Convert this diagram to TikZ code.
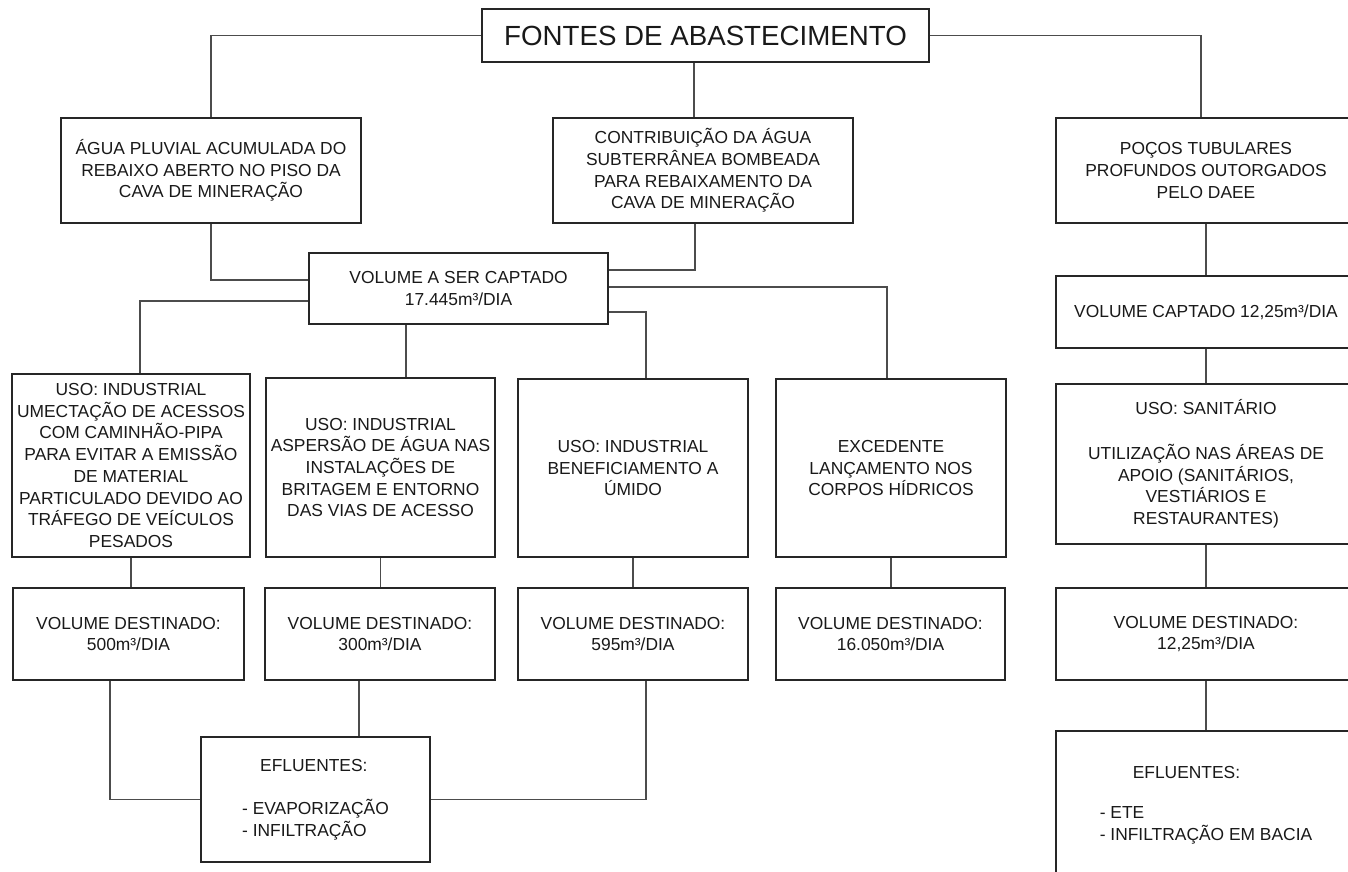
\documentclass[tikz,border=0pt]{standalone}
\usepackage{fontspec}
\setmainfont{Liberation Sans}

\tikzset{
  caixa/.style={draw=black!85, line width=1.6pt, align=center, inner sep=0pt,
    text=black!90, font=\fontsize{17.4}{21.7}\selectfont},
  tam/.style 2 args={minimum width=#1pt, minimum height=#2pt},
  ligacao/.style={draw=black!70, line width=1.3pt},
}

\begin{document}
\begin{tikzpicture}[x=1pt, y=-1pt]
  \path[use as bounding box] (0,0) rectangle (1348,871);
  \clip (0,0) rectangle (1348,871);

  % fontes
  \node[caixa, tam={447}{53}, font=\fontsize{27.7}{32}\selectfont] (titulo) at (705.5,35.5) {FONTES DE ABASTECIMENTO};
  \node[caixa, tam={300}{105}] (agua) at (211,170.5) {ÁGUA PLUVIAL ACUMULADA DO\\REBAIXO ABERTO NO PISO DA\\CAVA DE MINERAÇÃO};
  \node[caixa, tam={300}{105}] (contrib) at (703,170.5) {CONTRIBUIÇÃO DA ÁGUA\\SUBTERRÂNEA BOMBEADA\\PARA REBAIXAMENTO DA\\CAVA DE MINERAÇÃO};
  \node[caixa, tam={300}{105}] (pocos) at (1206,170.5) {POÇOS TUBULARES\\PROFUNDOS OUTORGADOS\\PELO DAEE};

  % volumes captados
  \node[caixa, tam={299}{71}] (volume) at (458.5,288.5) {VOLUME A SER CAPTADO\\17.445m³/DIA};
  \node[caixa, tam={300}{72}] (captado) at (1206,312) {VOLUME CAPTADO 12,25m³/DIA};

  % usos
  \node[caixa, tam={238}{183}] (uso1) at (131,465.5) {USO: INDUSTRIAL\\UMECTAÇÃO DE ACESSOS\\COM CAMINHÃO-PIPA\\PARA EVITAR A EMISSÃO\\DE MATERIAL\\PARTICULADO DEVIDO AO\\TRÁFEGO DE VEÍCULOS\\PESADOS};
  \node[caixa, tam={229}{179}] (uso2) at (380.5,467.5) {USO: INDUSTRIAL\\ASPERSÃO DE ÁGUA NAS\\INSTALAÇÕES DE\\BRITAGEM E ENTORNO\\DAS VIAS DE ACESSO};
  \node[caixa, tam={230}{178}] (uso3) at (633,468) {USO: INDUSTRIAL\\BENEFICIAMENTO A\\ÚMIDO};
  \node[caixa, tam={230}{178}] (excedente) at (891,468) {EXCEDENTE\\LANÇAMENTO NOS\\CORPOS HÍDRICOS};
  \node[caixa, tam={300}{160}] (sanitario) at (1206,464) {USO: SANITÁRIO\\[23pt]UTILIZAÇÃO NAS ÁREAS DE\\APOIO (SANITÁRIOS,\\VESTIÁRIOS E\\RESTAURANTES)};

  % volumes destinados
  \node[caixa, tam={231}{92}] (dest1) at (128.5,634) {VOLUME DESTINADO:\\500m³/DIA};
  \node[caixa, tam={230}{92}] (dest2) at (380,634) {VOLUME DESTINADO:\\300m³/DIA};
  \node[caixa, tam={230}{92}] (dest3) at (633,634) {VOLUME DESTINADO:\\595m³/DIA};
  \node[caixa, tam={229}{92}] (dest4) at (890.5,634) {VOLUME DESTINADO:\\16.050m³/DIA};
  \node[caixa, tam={300}{92}] (dest5) at (1206,634) {VOLUME DESTINADO:\\12,25m³/DIA};

  % efluentes
  \node[caixa, tam={229}{125}, align=left] (eflu) at (315.5,799.5) {\hspace*{18pt}EFLUENTES:\\[22pt]- EVAPORIZAÇÃO\\- INFILTRAÇÃO};
  \node[caixa, tam={300}{148}, align=left] (eflu2) at (1206,805) {\hspace*{33pt}EFLUENTES:\\[19pt]- ETE\\- INFILTRAÇÃO EM BACIA};

  % ligacoes
  \draw[ligacao] (titulo.west) -| (agua.north);
  \draw[ligacao] ([xshift=-9pt]contrib.north) -- ([xshift=-9pt]contrib.north |- titulo.south);
  \draw[ligacao] (titulo.east) -| ([xshift=-5pt]pocos.north);
  \draw[ligacao] (agua.south) |- ([yshift=8.5pt]volume.west);
  \draw[ligacao] ([xshift=-8pt]contrib.south) |- ([yshift=18.5pt]volume.east);
  \draw[ligacao] ([yshift=-12.5pt]volume.west) -| ([xshift=9pt]uso1.north);
  \draw[ligacao] ([xshift=-52.5pt]volume.south) -- ([xshift=-52.5pt]volume.south |- uso2.north);
  \draw[ligacao] ([yshift=-23.5pt]volume.east) -| ([xshift=13pt]uso3.north);
  \draw[ligacao] ([yshift=1.5pt]volume.east) -| ([xshift=-4pt]excedente.north);
  \draw[ligacao] (pocos) -- (captado);
  \draw[ligacao] (captado) -- (sanitario);

  \draw[ligacao] (uso1.south) -- (uso1.south |- dest1.north);
  \draw[ligacao] (uso2.south) -- (uso2.south |- dest2.north);
  \draw[ligacao] (uso3.south) -- (uso3.south |- dest3.north);
  \draw[ligacao] (excedente.south) -- (excedente.south |- dest4.north);
  \draw[ligacao] (sanitario) -- (dest5);

  \draw[ligacao] ([xshift=-18.5pt]dest1.south) |- (eflu.west);
  \draw[ligacao] ([xshift=-21pt]dest2.south) -- ([xshift=-21pt]dest2.south |- eflu.north);
  \draw[ligacao] ([xshift=13pt]dest3.south) |- (eflu.east);
  \draw[ligacao] (dest5) -- (eflu2);
\end{tikzpicture}
\end{document}
